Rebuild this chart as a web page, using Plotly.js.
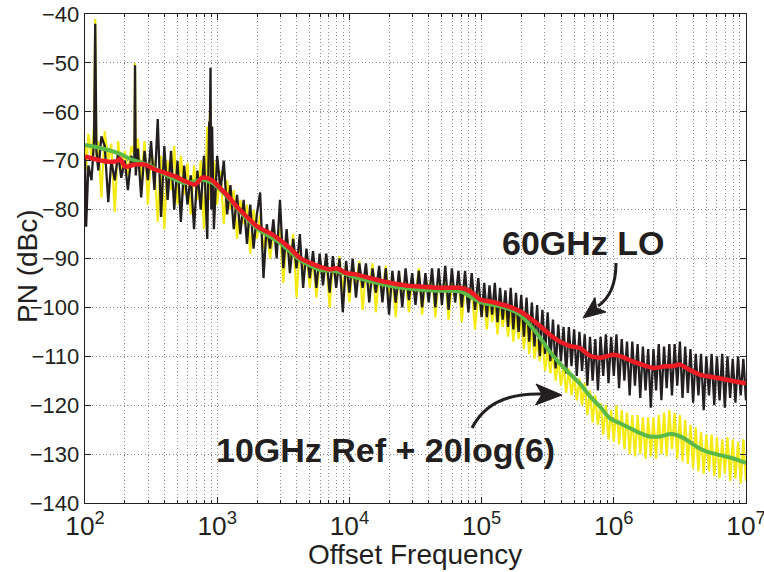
<!DOCTYPE html>
<html><head><meta charset="utf-8">
<script src="https://cdn.plot.ly/plotly-3.0.1.min.js"></script>
<style>html,body{margin:0;padding:0;background:#fff}#chart{width:764px;height:572px}</style>
</head><body><div id="chart"></div>
<script>
// Offset frequency grid (Hz) of the measured traces
const noiseFreq = [
100,102,106,112,117,119.5,122,126,133,141,150,158,168,178,188,200,211,224,236,239,242,251,266,282,299,316,335,355,376,398,422,447,473,501,531,562,596,631,668,708,750,794,841,870,878,890,902,915,944,
1000,1059,1122,1189,1259,1334,1413,1496,1585,1679,1778,1884,1995,2113,2239,2371,2512,2661,2818,2985,3162,3350,3548,3758,3981,4217,4467,4732,5012,5309,5623,5957,6310,6683,7079,7499,7943,8414,8913,9441,
10000,10590,11220,11890,12590,13340,14130,14960,15850,16790,17780,18840,19950,21130,22390,23710,25120,26610,28180,29850,31620,33500,35480,37580,39810,42170,44670,47320,50120,53090,56230,59570,63100,66830,70790,74990,79430,84140,89130,94410,
100000,104700,109600,114800,120200,125900,131800,138000,144500,151400,158500,166000,173800,182000,190500,199500,208900,218800,229100,239900,251200,263000,275400,288400,302000,316200,331100,346700,363100,380200,398100,416900,436500,457100,478600,501200,524800,549500,575400,602600,631000,660700,691800,724400,758600,794300,831800,871000,912000,955000,
1000000,1047000,1096000,1148000,1202000,1259000,1318000,1380000,1445000,1514000,1585000,1660000,1738000,1820000,1905000,1995000,2089000,2188000,2291000,2399000,2512000,2630000,2754000,2884000,3020000,3162000,3311000,3467000,3631000,3802000,3981000,4169000,4365000,4571000,4786000,5012000,5248000,5495000,5754000,6026000,6310000,6607000,6918000,7244000,7586000,7943000,8318000,8710000,9120000,9550000,10000000
];
// 60GHz LO measured phase noise (dBc) - black
const lo60Noise = [
-69.5,-83.5,-71,-74,-66,-42,-68,-72,-65,-67,-78.5,-70,-74,-68.5,-73.5,-70,-76,-69,-71,-50.5,-73,-67.5,-77.5,-68,-74,-66,-76,-61.5,-81.5,-67,-78,-68,-80,-70,-82.5,-71,-79,-73,-84,-72,-80,-69,-86,-62,-66,-51,-80,-63,-84,
-69,-76,-70,-81,-75,-84,-77,-85,-78,-87,-79,-88,-81,-76.5,-94,-83,-88,-82,-90,-78,-92,-84,-93,-86,-92,-85,-96,-88,-94,-88.5,-96,-89,-95.5,-89,-97,-89.5,-96,-90,-101,-90.5,
-97,-90,-98,-91,-96,-91,-99,-92,-97,-91.5,-99,-92,-101.5,-92.5,-99,-92.5,-100,-92,-98.5,-93,-99.5,-92.5,-100,-93,-99,-92,-100,-92,-99.5,-91.5,-100.5,-92,-99,-92.5,-100,-92.5,-101,-93,-100.5,-94,
-102,-95,-102,-95.5,-101.5,-95,-103,-96,-102.5,-96.5,-104,-96,-104.5,-97,-105,-97.5,-106,-98,-107,-99,-108,-99.5,-110,-100.5,-109.5,-101,-111,-102.5,-112.5,-103.5,-111,-104,-113.5,-104,-112,-104.5,-114,-105,-113,-105.5,-116,-106,-115,-106.5,-117,-106,-114,-105.5,-115.5,-106,
-114,-105.5,-116.5,-106.5,-115,-107,-118,-107,-116,-107.5,-118.5,-108,-117,-108.5,-120.5,-108.5,-117,-107.5,-119,-108,-116.5,-107.5,-118,-107.5,-116,-107,-118.5,-108,-117.5,-108.5,-119.5,-109.5,-118,-109.5,-121,-110,-118,-109.5,-120,-110,-119,-109.5,-120.5,-110,-118.5,-110.5,-119.5,-110,-118,-110.5,-119
];
// 10GHz reference + 20log(6) (dBc) - yellow
const ref10Noise = [
-67,-72,-64.5,-69,-63,-41,-70,-66,-77.5,-64,-70,-66.5,-80.5,-66,-72,-68,-73,-67,-69,-50,-72,-65.5,-74,-66,-79,-68,-71,-82.5,-69,-84,-70,-76,-67,-79,-69,-77,-70.5,-81,-71,-78,-70,-84,-63,-78,-61,-58,-66,-72,-70,
-79,-72,-83,-74,-80,-76,-86,-78,-83,-79,-89,-80,-86,-81,-88,-84,-90,-85,-87,-84,-95,-86,-90,-85,-98,-87.5,-93,-89,-96,-90,-98,-91,-93,-90,-100,-91,-95,-89.5,-97,-91,
-99,-91.5,-95,-90.5,-100.5,-92,-96,-91,-101,-93,-97,-91.5,-98,-93.5,-102,-93,-97.5,-93.5,-101,-94,-98,-92,-101.5,-94,-97,-93,-102,-94.5,-98,-93.5,-102.5,-95,-98,-94,-103,-95,-100,-96,-104.5,-97,
-102,-98,-104.5,-98.5,-103,-99,-105.5,-99.5,-104,-100,-106,-100.5,-107,-101.5,-106.5,-102,-108.5,-102.5,-109.5,-104,-110.5,-106.5,-111,-107,-113,-108.5,-113.5,-109,-115,-110.5,-116,-112,-117.5,-112.5,-118,-114,-119,-114.5,-120,-115.5,-122,-117,-123.5,-118,-124,-119.5,-126,-120,-127,-121,
-127.5,-120,-128,-121,-129,-121.5,-130,-122,-130.5,-122,-130,-122.5,-131,-122.5,-130.5,-122.5,-131,-122,-130,-121.5,-130.5,-121,-129,-121.5,-131,-122,-131.5,-123,-132,-124,-133,-124.5,-133.5,-125.5,-134,-126,-133.5,-126,-134.5,-126.5,-135,-127,-134,-126.5,-135.5,-127,-135,-127.5,-136,-127,-135.5
];
// Smoothed 60GHz LO (red)
const loSmoothFreq = [100,141.6,174.6,184.1,200.9,238.8,284.4,338.8,402.7,479.7,570.2,679.2,763.8,833.7,933.3,1081,1213,1365,1622,1770,1932,2109,2506,2985,3556,4227,5035,5998,7129,8017,9550,11350,14320,18030,22800,28710,36220,45710,57680,68710,81660,97270,115900,137700,164100,195000,232300,276700,328900,391700,466700,554600,660700,787000,990800,1180000,1403000,1671000,1991000,2366000,2818000,3170000,3776000,4487000,5662000,7145000,8511000,10000000];
const lo60Smooth = [-69.1,-70.1,-70.1,-69.6,-71.2,-70.8,-70.8,-71.8,-72.5,-73.2,-74.2,-74.9,-73.5,-73.5,-74.2,-75.9,-77.3,-79.0,-81.1,-82.1,-83.1,-83.8,-84.8,-86.2,-87.9,-89.9,-90.9,-91.7,-92.2,-92.0,-93.0,-93.3,-94.0,-94.7,-95.2,-95.6,-95.8,-96.0,-96.0,-96.0,-96.7,-98.4,-98.8,-99.3,-99.9,-100.8,-102.2,-103.8,-105.6,-107.0,-107.9,-108.3,-109.9,-110.3,-109.7,-110.2,-111.1,-111.8,-112.4,-112.1,-112.0,-111.7,-112.8,-113.8,-114.3,-114.8,-115.2,-115.5];
// Smoothed 10GHz ref + 20log(6) (green)
const refSmoothFreq = [100,129.9,184.1,219,309,402.7,570.2,763.8,933.3,1213,1622,2109,2985,4227,5998,8017,11350,18030,28710,45710,68710,97270,137700,164100,195000,232300,276700,328900,391700,466700,554600,660700,787000,935400,1114000,1327000,1578000,1879000,2239000,2667000,2992000,3556000,4236000,5047000,6353000,8017000,10000000];
const ref10Smooth = [-66.8,-67.4,-68.6,-69.6,-71.0,-72.8,-74.6,-73.9,-74.6,-77.6,-81.5,-84.3,-86.8,-90.3,-92.3,-92.6,-93.9,-95.3,-96.2,-96.6,-96.7,-98.9,-99.8,-100.4,-101.5,-103.6,-106.2,-109.1,-111.5,-113.6,-115.6,-118.2,-120.3,-122.7,-123.7,-124.7,-125.7,-126.4,-126.4,-125.9,-126.1,-127.1,-128.5,-129.5,-130.2,-130.9,-131.8];

const labelLO = '60GHz LO';
const labelRef = '10GHz Ref + 20log(6)';
const xTitle = 'Offset Frequency';
const yTitle = 'PN (dBc)';

const INK = '#231f20';
const FONT = 'Liberation Sans, Arial, Helvetica, sans-serif';
const L = 85, T = 14, W = 661, H = 489;
const fx = x => (x - L) / W;
const fy = y => (T + H - y) / H;
const pt = (x, y) => fx(x).toFixed(4) + ',' + fy(y).toFixed(4);

const traces = [
  {x: noiseFreq, y: ref10Noise, mode: 'lines', line: {color: '#f5ea14', width: 2.2}},
  {x: noiseFreq, y: lo60Noise, mode: 'lines', line: {color: INK, width: 2.3}},
  {x: refSmoothFreq, y: ref10Smooth, mode: 'lines', line: {color: '#5bb948', width: 4, shape: 'spline', smoothing: 0.6}},
  {x: loSmoothFreq, y: lo60Smooth, mode: 'lines', line: {color: '#ed1c24', width: 4.5, shape: 'spline', smoothing: 0.6}}
];

const gridCol = '#8c8c8c';
const layout = {
  width: 764, height: 572,
  margin: {l: L, r: 764 - L - W, t: T, b: 572 - T - H, pad: 0},
  paper_bgcolor: '#fff', plot_bgcolor: '#fff',
  showlegend: false,
  font: {family: FONT, color: INK},
  xaxis: {
    type: 'log', range: [1.99995, 7.00005], dtick: 1, tick0: 0,
    exponentformat: 'power', showexponent: 'all',
    ticklabeloverflow: 'allow',
    ticks: 'inside', ticklen: 6, tickcolor: INK, tickwidth: 1,
    showline: true, linecolor: INK, linewidth: 1.3, mirror: 'ticks',
    showgrid: true, gridcolor: gridCol, griddash: '1px,2.5px', gridwidth: 1,
    tickfont: {size: 21, family: FONT, color: INK},
    zeroline: false,
    minor: {dtick: 'D1', ticks: 'inside', ticklen: 3, tickcolor: INK, showgrid: true, gridcolor: gridCol, griddash: '1px,2.5px', gridwidth: 1}
  },
  yaxis: {
    range: [-140, -40], dtick: 10, tick0: -140,
    ticklabeloverflow: 'allow',
    ticks: 'inside', ticklen: 6, tickcolor: INK, tickwidth: 1,
    showline: true, linecolor: INK, linewidth: 1.3, mirror: 'ticks',
    showgrid: true, gridcolor: gridCol, griddash: '1px,2.5px', gridwidth: 1,
    tickfont: {size: 22, family: FONT, color: INK},
    zeroline: false
  },
  annotations: [
    {text: '<b>' + labelLO + '</b>', xref: 'paper', yref: 'paper', x: fx(583), y: fy(242.5), xanchor: 'center', yanchor: 'middle', showarrow: false, font: {size: 34, family: FONT, color: INK}},
    {text: '<b>' + labelRef + '</b>', xref: 'paper', yref: 'paper', x: fx(385), y: fy(450), xanchor: 'center', yanchor: 'middle', showarrow: false, font: {size: 34, family: FONT, color: INK}},
    {text: xTitle, xref: 'paper', yref: 'paper', x: fx(415), y: fy(554), xanchor: 'center', yanchor: 'middle', showarrow: false, font: {size: 28, family: FONT, color: INK}},
    {text: yTitle, xref: 'paper', yref: 'paper', x: fx(27), y: fy(266), xanchor: 'center', yanchor: 'middle', textangle: -90, showarrow: false, font: {size: 28, family: FONT, color: INK}}
  ],
  shapes: [
    {type: 'path', xref: 'paper', yref: 'paper', path: 'M' + pt(616, 263) + ' Q' + pt(616, 294) + ' ' + pt(598, 306), line: {color: INK, width: 3}},
    {type: 'path', xref: 'paper', yref: 'paper', path: 'M' + pt(583, 318) + ' L' + pt(606, 312) + ' L' + pt(596.5, 307.7) + ' L' + pt(595, 297.5) + ' Z', fillcolor: INK, line: {color: INK, width: 1}},
    {type: 'path', xref: 'paper', yref: 'paper', path: 'M' + pt(472, 428) + ' Q' + pt(490, 392) + ' ' + pt(543, 394), line: {color: INK, width: 3}},
    {type: 'path', xref: 'paper', yref: 'paper', path: 'M' + pt(562, 395) + ' L' + pt(536, 384) + ' L' + pt(542, 394.2) + ' L' + pt(535.5, 405) + ' Z', fillcolor: INK, line: {color: INK, width: 1}}
  ]
};

Plotly.newPlot('chart', traces, layout, {staticPlot: true, displayModeBar: false});
</script>
</body></html>
